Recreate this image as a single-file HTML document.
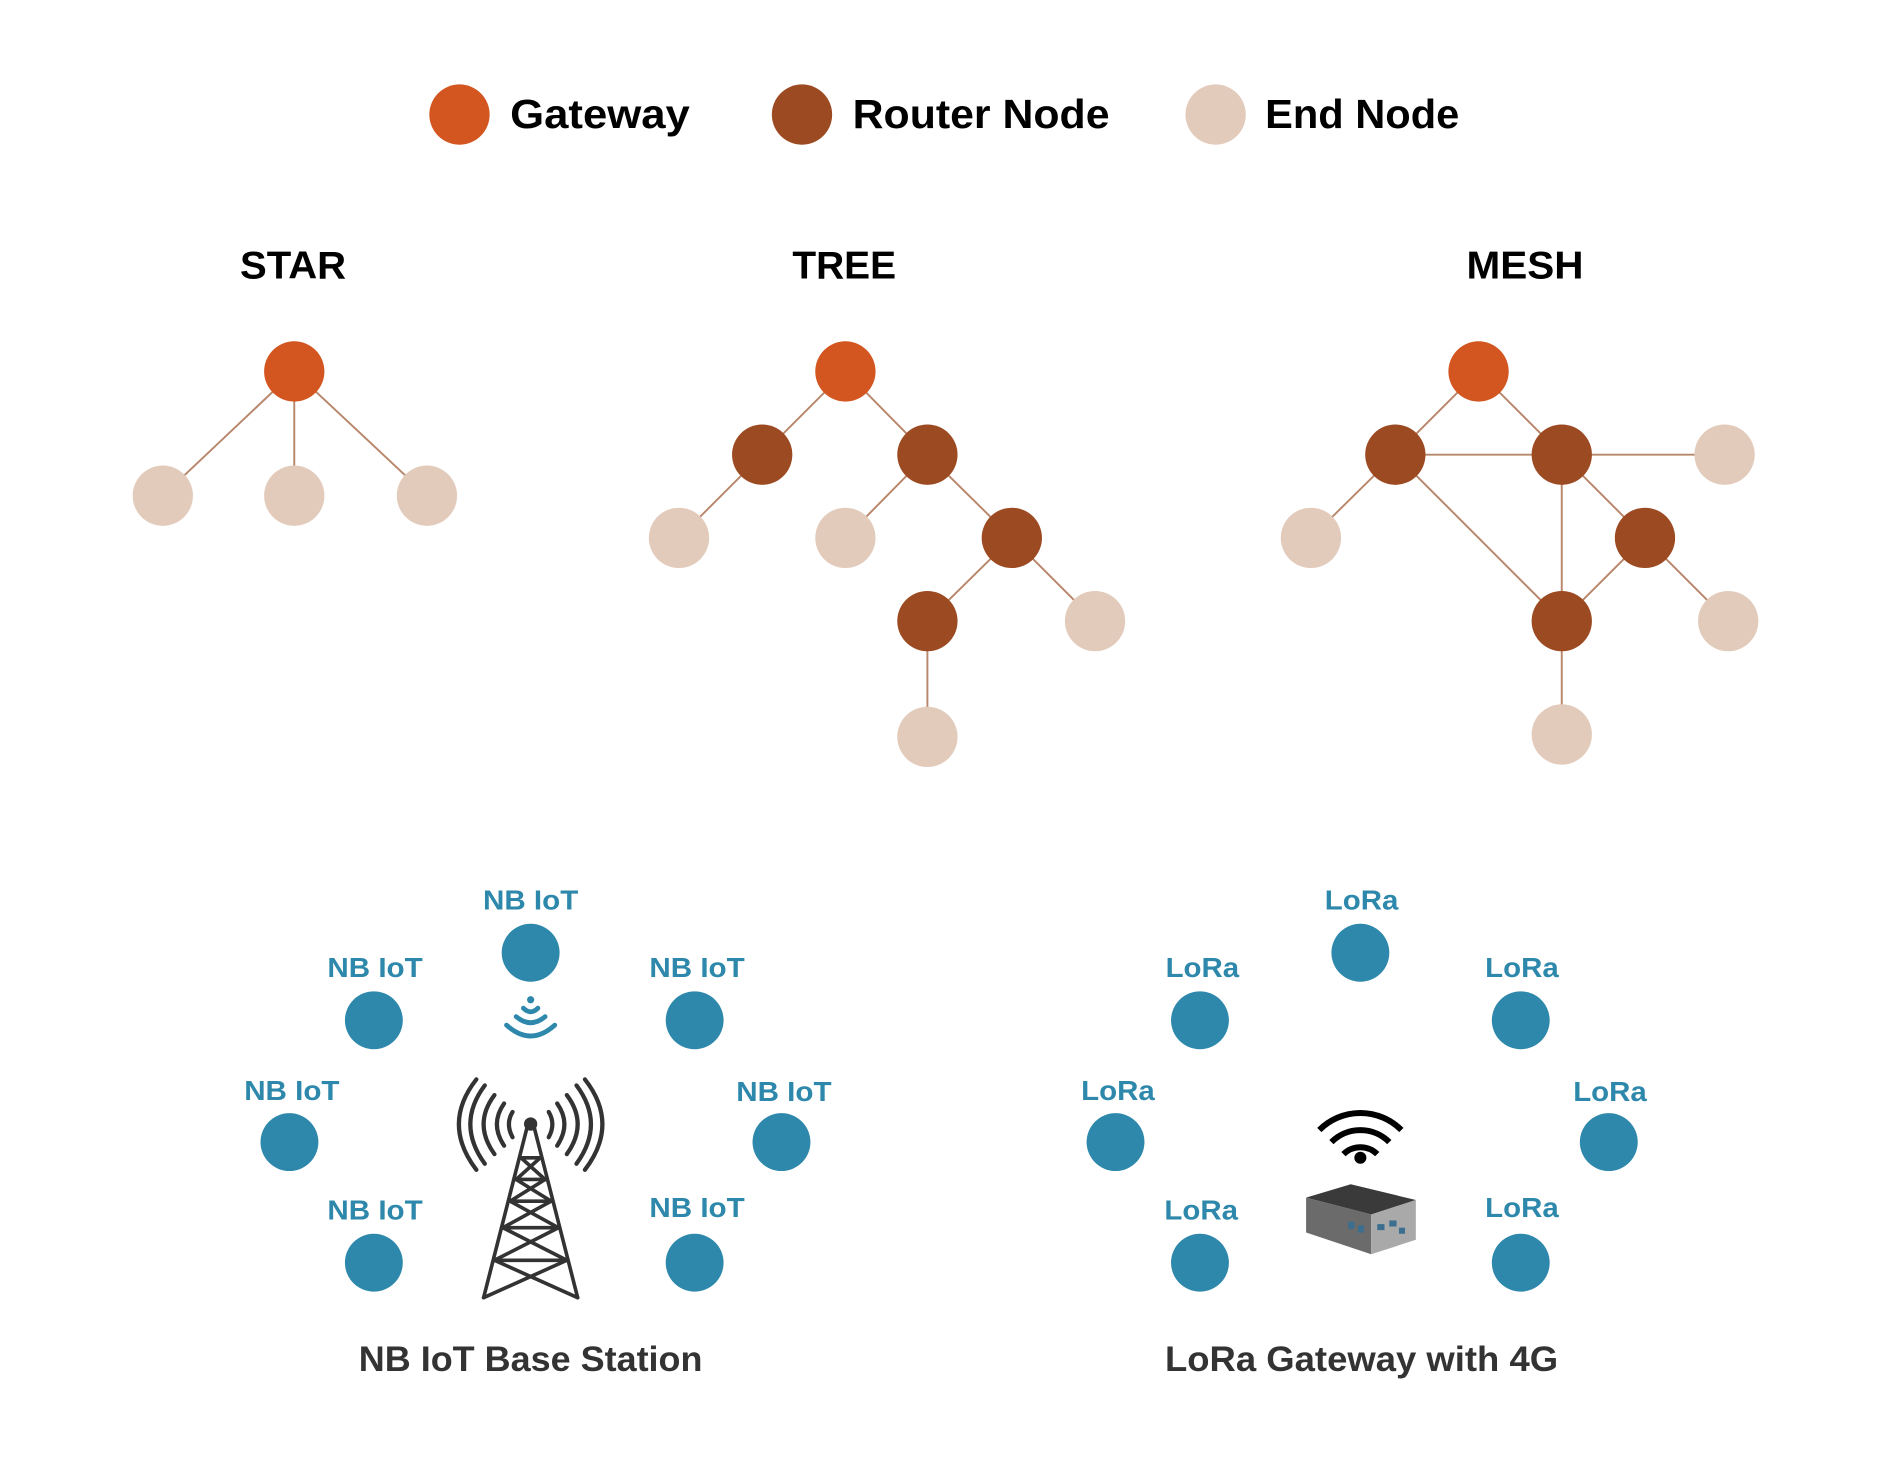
<!DOCTYPE html>
<html><head><meta charset="utf-8"><style>html,body{margin:0;padding:0;background:#fff}svg{display:block}</style></head>
<body>
<svg width="1891" height="1477" viewBox="0 0 1568 1224.7" preserveAspectRatio="none" xmlns="http://www.w3.org/2000/svg" font-family="Liberation Sans, sans-serif" font-weight="bold">
<rect width="1568" height="1224.7" fill="#fff"/>
<!-- legend -->
<circle cx="381" cy="95" r="25" fill="#d35520"/>
<text x="423" y="106" font-size="34" textLength="149" lengthAdjust="spacingAndGlyphs">Gateway</text>
<circle cx="665" cy="95" r="25" fill="#9c4a22"/>
<text x="707" y="106" font-size="34" textLength="213" lengthAdjust="spacingAndGlyphs">Router Node</text>
<circle cx="1008" cy="95" r="25" fill="#e3cbbb"/>
<text x="1049" y="106" font-size="34" textLength="161" lengthAdjust="spacingAndGlyphs">End Node</text>
<!-- titles -->
<text x="199" y="231" font-size="32" textLength="88" lengthAdjust="spacingAndGlyphs">STAR</text>
<text x="657" y="231" font-size="32" textLength="86" lengthAdjust="spacingAndGlyphs">TREE</text>
<text x="1216" y="231" font-size="32" textLength="97" lengthAdjust="spacingAndGlyphs">MESH</text>
<g stroke="#b8866a" stroke-width="1.6">
<line x1="244" y1="308" x2="135" y2="411"/><line x1="244" y1="308" x2="244" y2="411"/><line x1="244" y1="308" x2="354" y2="411"/>
<line x1="701" y1="308" x2="632" y2="377"/><line x1="701" y1="308" x2="769" y2="377"/>
<line x1="632" y1="377" x2="563" y2="446"/><line x1="769" y1="377" x2="701" y2="446"/><line x1="769" y1="377" x2="839" y2="446"/>
<line x1="839" y1="446" x2="769" y2="515"/><line x1="839" y1="446" x2="908" y2="515"/><line x1="769" y1="515" x2="769" y2="611"/>
<line x1="1226" y1="308" x2="1157" y2="377"/><line x1="1226" y1="308" x2="1295" y2="377"/>
<line x1="1157" y1="377" x2="1430" y2="377"/><line x1="1157" y1="377" x2="1087" y2="446"/>
<line x1="1157" y1="377" x2="1295" y2="515"/><line x1="1295" y1="377" x2="1295" y2="515"/>
<line x1="1295" y1="377" x2="1364" y2="446"/><line x1="1364" y1="446" x2="1295" y2="515"/>
<line x1="1364" y1="446" x2="1433" y2="515"/><line x1="1295" y1="515" x2="1295" y2="609"/>
</g>
<g fill="#d35520"><circle cx="244" cy="308" r="25"/><circle cx="701" cy="308" r="25"/><circle cx="1226" cy="308" r="25"/></g>
<g fill="#9c4a22"><circle cx="632" cy="377" r="25"/><circle cx="769" cy="377" r="25"/><circle cx="839" cy="446" r="25"/><circle cx="769" cy="515" r="25"/>
<circle cx="1157" cy="377" r="25"/><circle cx="1295" cy="377" r="25"/><circle cx="1364" cy="446" r="25"/><circle cx="1295" cy="515" r="25"/></g>
<g fill="#e3cbbb"><circle cx="135" cy="411" r="25"/><circle cx="244" cy="411" r="25"/><circle cx="354" cy="411" r="25"/>
<circle cx="563" cy="446" r="25"/><circle cx="701" cy="446" r="25"/><circle cx="908" cy="515" r="25"/><circle cx="769" cy="611" r="25"/>
<circle cx="1430" cy="377" r="25"/><circle cx="1087" cy="446" r="25"/><circle cx="1433" cy="515" r="25"/><circle cx="1295" cy="609" r="25"/></g>
<g fill="#2e88ab">
<circle cx="440" cy="790" r="24"/><circle cx="310" cy="846" r="24"/><circle cx="576" cy="846" r="24"/><circle cx="240" cy="947" r="24"/><circle cx="648" cy="947" r="24"/><circle cx="310" cy="1047" r="24"/><circle cx="576" cy="1047" r="24"/>
<circle cx="1128" cy="790" r="24"/><circle cx="995" cy="846" r="24"/><circle cx="1261" cy="846" r="24"/><circle cx="925" cy="947" r="24"/><circle cx="1334" cy="947" r="24"/><circle cx="995" cy="1047" r="24"/><circle cx="1261" cy="1047" r="24"/>
</g>
<g fill="#2e88ab" font-size="23" text-anchor="middle">
<text x="440" y="754" textLength="79" lengthAdjust="spacingAndGlyphs">NB IoT</text>
<text x="311" y="810" textLength="79" lengthAdjust="spacingAndGlyphs">NB IoT</text>
<text x="578" y="810" textLength="79" lengthAdjust="spacingAndGlyphs">NB IoT</text>
<text x="242" y="912" textLength="79" lengthAdjust="spacingAndGlyphs">NB IoT</text>
<text x="650" y="913" textLength="79" lengthAdjust="spacingAndGlyphs">NB IoT</text>
<text x="311" y="1011" textLength="79" lengthAdjust="spacingAndGlyphs">NB IoT</text>
<text x="578" y="1009" textLength="79" lengthAdjust="spacingAndGlyphs">NB IoT</text>
<text x="1129" y="754" textLength="61" lengthAdjust="spacingAndGlyphs">LoRa</text>
<text x="997" y="810" textLength="61" lengthAdjust="spacingAndGlyphs">LoRa</text>
<text x="1262" y="810" textLength="61" lengthAdjust="spacingAndGlyphs">LoRa</text>
<text x="927" y="912" textLength="61" lengthAdjust="spacingAndGlyphs">LoRa</text>
<text x="1335" y="913" textLength="61" lengthAdjust="spacingAndGlyphs">LoRa</text>
<text x="996" y="1011" textLength="61" lengthAdjust="spacingAndGlyphs">LoRa</text>
<text x="1262" y="1009" textLength="61" lengthAdjust="spacingAndGlyphs">LoRa</text>
</g>
<g fill="none" stroke="#2e88ab" stroke-width="4" stroke-linecap="round">
<circle cx="440" cy="829" r="3" fill="#2e88ab" stroke="none"/>
<path d="M434 836 Q440 842 446 836"/><path d="M428 843 Q440 853 452 843"/><path d="M420 850 Q440 868 460 850"/>
</g>
<g stroke="#333" fill="none" stroke-linecap="round">
<g stroke-width="3.5">
<path d="M402 900 Q378 932 402 965"/><path d="M478 900 Q502 932 478 965"/>
<path d="M410 908 Q392 932 410 957"/><path d="M470 908 Q488 932 470 957"/>
<path d="M418 915 Q406 932 418 950"/><path d="M462 915 Q474 932 462 950"/>
<path d="M425 922 Q419 932 425 943"/><path d="M455 922 Q461 932 455 943"/>
<path d="M395 895 Q366 932 395 970"/><path d="M485 895 Q514 932 485 970"/>
</g>
<circle cx="440" cy="932" r="5" fill="#333"/>
<g stroke-width="3">
<line x1="437" y1="935" x2="401" y2="1076"/><line x1="443" y1="935" x2="479" y2="1076"/>
<line x1="432" y1="960" x2="448" y2="960"/><line x1="428" y1="978" x2="452" y2="978"/><line x1="423" y1="996" x2="457" y2="996"/>
<line x1="417" y1="1018" x2="463" y2="1018"/><line x1="410" y1="1045" x2="470" y2="1045"/>
<line x1="432" y1="960" x2="452" y2="978"/><line x1="448" y1="960" x2="428" y2="978"/>
<line x1="428" y1="978" x2="457" y2="996"/><line x1="452" y1="978" x2="423" y2="996"/>
<line x1="423" y1="996" x2="463" y2="1018"/><line x1="457" y1="996" x2="417" y2="1018"/>
<line x1="417" y1="1018" x2="470" y2="1045"/><line x1="463" y1="1018" x2="410" y2="1045"/>
<line x1="410" y1="1045" x2="479" y2="1076"/><line x1="470" y1="1045" x2="401" y2="1076"/>
</g>
</g>
<g fill="none" stroke="#000" stroke-width="5">
<path d="M1094 937 A48 48 0 0 1 1162 937"/><path d="M1104 947 A34 34 0 0 1 1152 947"/><path d="M1114 957 A20 20 0 0 1 1142 957"/>
</g>
<circle cx="1128" cy="960" r="5" fill="#000"/>
<polygon points="1083,993 1120,982 1174,995 1137,1007" fill="#3a3a3a"/>
<polygon points="1083,993 1137,1007 1137,1040 1083,1022" fill="#6b6b6b"/>
<polygon points="1137,1007 1174,995 1174,1028 1137,1040" fill="#a9a9a9"/>
<g fill="#3b6e8f"><rect x="1118" y="1013" width="5" height="6"/><rect x="1126" y="1016" width="5" height="6"/><rect x="1142" y="1015" width="6" height="5"/><rect x="1152" y="1012" width="6" height="5"/><rect x="1160" y="1018" width="5" height="5"/></g>
<g fill="#333" font-size="29" text-anchor="middle">
<text x="440" y="1137" textLength="285" lengthAdjust="spacingAndGlyphs">NB IoT Base Station</text>
<text x="1129" y="1137" textLength="326" lengthAdjust="spacingAndGlyphs">LoRa Gateway with 4G</text>
</g>
</svg>
</body></html>
